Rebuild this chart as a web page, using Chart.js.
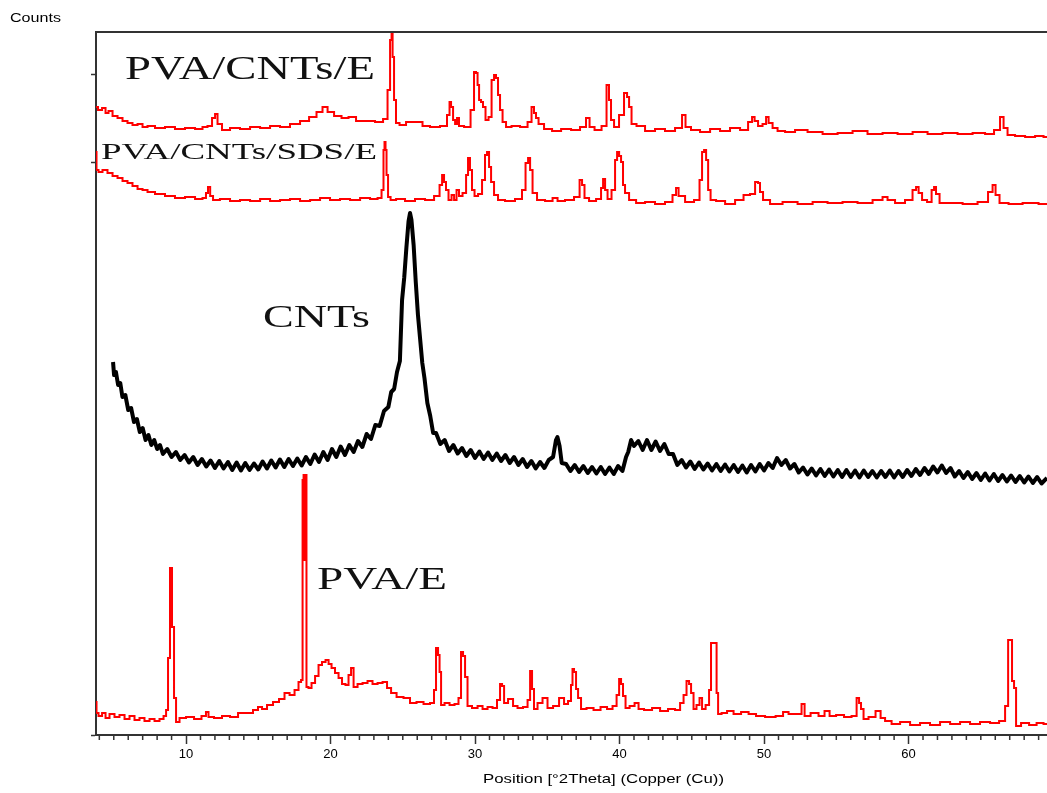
<!DOCTYPE html>
<html>
<head>
<meta charset="utf-8">
<title>XRD patterns</title>
<script src="https://cdn.jsdelivr.net/npm/chart.js@4.4.1/dist/chart.umd.min.js"></script>
<style>
  html, body { margin: 0; padding: 0; background: #fff; }
  #wrap { width: 1047px; height: 793px; }
</style>
</head>
<body>
<div id="wrap"><canvas id="xrd" width="1047" height="793"></canvas></div>
<script>
// tick labels on the 2theta axis
const xTicks = [10, 20, 30, 40, 50, 60];
const seriesNames = ['PVA/CNTs/E', 'PVA/CNTs/SDS/E', 'CNTs', 'PVA/E'];

// [2theta, counts] (patterns are stacked with offsets)
const pvaCntsE = [[3.77,1256],[4.05,1250],[4.33,1254],[4.53,1244],[4.74,1248],[5.09,1238],[5.43,1234],[5.78,1228],[6.12,1224],[6.47,1220],[6.82,1222],[7.16,1216],[7.51,1218],[8.20,1214],[8.89,1216],[9.58,1212],[10.28,1214],[10.97,1212],[11.31,1216],[11.66,1218],[11.94,1234],[12.08,1242],[12.28,1222],[12.70,1210],[13.39,1214],[14.08,1212],[14.78,1216],[15.47,1214],[16.16,1218],[16.85,1216],[17.54,1222],[18.24,1228],[18.79,1236],[19.27,1246],[19.62,1256],[19.97,1246],[20.52,1238],[21.00,1234],[21.49,1236],[22.04,1228],[22.73,1228],[23.43,1226],[23.84,1232],[24.05,1290],[24.19,1390],[24.26,1440],[24.33,1356],[24.46,1270],[24.60,1224],[24.95,1220],[25.50,1226],[26.19,1226],[26.54,1218],[27.23,1216],[27.92,1218],[28.20,1240],[28.27,1266],[28.41,1256],[28.55,1230],[28.69,1222],[28.82,1234],[28.96,1218],[29.52,1216],[29.86,1250],[30.00,1326],[30.14,1324],[30.21,1300],[30.35,1270],[30.48,1266],[30.62,1256],[30.83,1230],[31.04,1236],[31.25,1310],[31.38,1320],[31.52,1314],[31.66,1280],[31.80,1250],[32.01,1226],[32.28,1216],[32.77,1218],[33.46,1216],[33.81,1226],[34.01,1256],[34.15,1244],[34.29,1234],[34.50,1222],[35.05,1212],[35.61,1208],[36.30,1212],[36.99,1210],[37.54,1216],[37.82,1234],[38.03,1216],[38.51,1210],[39.00,1218],[39.20,1300],[39.34,1270],[39.48,1230],[39.76,1216],[40.17,1240],[40.45,1284],[40.59,1276],[40.73,1256],[40.93,1222],[41.42,1218],[42.11,1208],[42.80,1212],[43.49,1208],[44.19,1214],[44.46,1240],[44.67,1216],[45.22,1210],[45.92,1206],[46.61,1212],[47.30,1208],[47.99,1214],[48.69,1210],[49.10,1226],[49.24,1236],[49.45,1228],[49.72,1218],[50.07,1222],[50.21,1236],[50.42,1224],[50.76,1214],[51.11,1208],[51.80,1206],[52.49,1210],[53.53,1206],[54.57,1202],[55.61,1204],[56.64,1208],[57.68,1202],[58.72,1204],[59.76,1202],[60.80,1206],[61.83,1202],[62.87,1204],[63.91,1202],[64.95,1204],[65.64,1202],[66.19,1210],[66.47,1236],[66.68,1214],[67.02,1200],[67.72,1198],[68.41,1196],[69.10,1198],[69.58,1196]];

const pvaCntsSdsE = [[3.77,1166],[3.84,1130],[4.05,1126],[4.39,1130],[4.74,1124],[5.09,1118],[5.43,1114],[5.78,1108],[6.12,1104],[6.47,1098],[6.82,1092],[7.16,1090],[7.51,1086],[8.20,1082],[8.89,1078],[9.58,1074],[10.28,1076],[10.97,1072],[11.31,1074],[11.45,1084],[11.59,1096],[11.75,1078],[11.99,1070],[12.70,1072],[13.39,1068],[14.08,1070],[14.78,1068],[15.47,1072],[16.16,1068],[16.85,1070],[17.54,1072],[18.24,1068],[18.93,1070],[19.62,1074],[20.31,1070],[21.00,1072],[21.70,1070],[22.39,1074],[23.08,1072],[23.43,1074],[23.63,1090],[23.70,1170],[23.77,1186],[23.84,1170],[23.91,1120],[24.05,1076],[24.26,1070],[24.81,1072],[25.50,1068],[26.19,1072],[26.89,1070],[27.44,1078],[27.65,1100],[27.79,1120],[27.92,1106],[28.06,1090],[28.27,1070],[28.48,1080],[28.62,1070],[28.82,1090],[28.96,1078],[29.31,1084],[29.45,1120],[29.58,1154],[29.72,1130],[29.86,1090],[30.07,1078],[30.35,1082],[30.62,1110],[30.76,1160],[30.90,1166],[31.04,1136],[31.18,1106],[31.45,1080],[31.73,1070],[32.42,1068],[33.11,1072],[33.39,1090],[33.60,1144],[33.74,1154],[33.88,1130],[34.08,1084],[34.50,1070],[35.19,1068],[35.54,1074],[35.88,1068],[36.57,1070],[37.13,1076],[37.34,1110],[37.47,1100],[37.68,1074],[38.10,1068],[38.65,1072],[38.79,1094],[38.93,1112],[39.07,1090],[39.27,1072],[39.62,1090],[39.76,1150],[39.90,1166],[40.04,1158],[40.17,1146],[40.31,1100],[40.45,1084],[40.87,1070],[41.42,1064],[42.11,1066],[42.80,1062],[43.49,1066],[43.84,1080],[43.98,1094],[44.19,1078],[44.88,1066],[45.43,1070],[45.64,1110],[45.78,1166],[45.92,1170],[46.06,1150],[46.20,1090],[46.40,1070],[46.96,1068],[47.65,1062],[48.34,1070],[48.82,1080],[49.24,1082],[49.52,1106],[49.65,1104],[49.79,1086],[50.07,1070],[50.76,1062],[51.80,1066],[52.84,1062],[53.88,1066],[54.91,1064],[55.95,1066],[56.99,1064],[58.03,1070],[58.37,1076],[58.72,1070],[59.41,1064],[60.10,1070],[60.45,1090],[60.59,1096],[60.80,1084],[61.07,1070],[61.49,1066],[61.70,1090],[61.83,1096],[61.97,1082],[62.32,1064],[63.22,1064],[64.26,1062],[65.29,1066],[65.71,1086],[65.92,1100],[66.12,1080],[66.47,1064],[67.37,1062],[68.41,1064],[69.58,1062]];

const cnts = [[4.95,746],[5.02,720],[5.15,726],[5.3,700],[5.45,704],[5.6,676],[5.8,680],[6.0,650],[6.2,654],[6.4,626],[6.6,632],[6.8,606],[7.0,614],[7.2,590],[7.4,600],[7.6,580],[7.8,590],[8.0,572],[8.2,580],[8.4,562],[8.7,572],[9.0,556],[9.3,566],[9.6,550],[9.9,560],[10.2,545],[10.5,556],[10.8,540],[11.1,552],[11.4,537],[11.7,549],[12.0,534],[12.3,548],[12.6,533],[12.9,546],[13.2,530],[13.5,545],[13.8,529],[14.1,544],[14.4,530],[14.7,543],[15.0,531],[15.3,547],[15.6,533],[15.9,549],[16.2,535],[16.5,551],[16.8,536],[17.1,552],[17.4,538],[17.7,553],[18.0,539],[18.3,556],[18.6,542],[18.9,561],[19.2,546],[19.5,566],[19.8,550],[20.1,572],[20.4,556],[20.7,577],[21.0,560],[21.3,580],[21.6,566],[21.9,588],[22.2,576],[22.5,602],[22.8,592],[23.1,620],[23.4,618],[23.7,648],[24.0,656],[24.2,686],[24.4,692],[24.6,726],[24.8,748],[24.95,870],[25.1,915],[25.25,975],[25.4,1028],[25.5,1044],[25.6,1030],[25.75,980],[25.9,905],[26.05,840],[26.2,792],[26.35,744],[26.5,714],[26.7,664],[26.9,638],[27.1,604],[27.3,604],[27.6,582],[27.9,590],[28.2,568],[28.5,580],[28.8,563],[29.1,574],[29.4,558],[29.7,570],[30.0,554],[30.3,567],[30.6,552],[30.9,565],[31.2,550],[31.5,563],[31.8,548],[32.1,560],[32.4,544],[32.7,556],[33.0,540],[33.3,552],[33.6,536],[33.9,548],[34.2,533],[34.5,546],[34.8,534],[35.1,550],[35.4,556],[35.6,590],[35.7,596],[35.85,578],[36.0,544],[36.3,542],[36.6,528],[36.9,540],[37.2,526],[37.5,538],[37.8,524],[38.1,536],[38.4,523],[38.7,536],[39.0,522],[39.3,535],[39.6,522],[39.9,538],[40.2,528],[40.45,556],[40.6,566],[40.8,590],[41.0,578],[41.3,588],[41.6,570],[41.9,590],[42.2,570],[42.5,587],[42.8,568],[43.1,582],[43.4,562],[43.7,562],[44.0,540],[44.3,550],[44.6,535],[44.9,547],[45.2,532],[45.5,545],[45.8,531],[46.1,543],[46.4,529],[46.7,542],[47.0,528],[47.3,541],[47.6,527],[47.9,540],[48.2,526],[48.5,539],[48.8,525],[49.1,540],[49.4,527],[49.7,542],[50.0,529],[50.3,544],[50.6,534],[50.9,554],[51.2,540],[51.5,550],[51.8,533],[52.1,542],[52.4,525],[52.7,535],[53.0,521],[53.3,533],[53.6,519],[53.9,532],[54.2,518],[54.5,531],[54.8,517],[55.1,530],[55.4,516],[55.7,530],[56.0,516],[56.3,529],[56.6,515],[56.9,529],[57.2,516],[57.5,528],[57.8,515],[58.1,528],[58.4,516],[58.7,529],[59.0,515],[59.3,528],[59.6,516],[59.9,530],[60.2,518],[60.5,532],[60.8,520],[61.1,534],[61.4,522],[61.7,537],[62.0,525],[62.3,539],[62.6,524],[62.9,534],[63.2,517],[63.5,528],[63.8,514],[64.1,526],[64.4,512],[64.7,524],[65.0,510],[65.3,523],[65.6,509],[65.9,522],[66.2,508],[66.5,520],[66.8,507],[67.1,519],[67.4,506],[67.7,518],[68.0,505],[68.3,517],[68.6,504],[68.9,516],[69.2,503],[69.58,514]];

const pvaE = [[3.77,66],[3.84,44],[4.05,38],[4.33,44],[4.53,34],[4.88,42],[5.22,36],[5.57,40],[5.92,32],[6.26,38],[6.61,30],[6.95,34],[7.30,28],[7.65,32],[7.99,28],[8.34,32],[8.55,38],[8.69,50],[8.82,154],[8.96,334],[9.10,216],[9.24,74],[9.38,26],[9.72,34],[10.28,36],[10.83,32],[11.31,38],[11.45,46],[11.66,36],[12.21,34],[12.77,38],[13.32,36],[13.88,44],[14.43,44],[14.84,50],[15.12,56],[15.40,52],[15.81,60],[16.23,66],[16.64,72],[16.99,84],[17.34,80],[17.68,90],[17.89,106],[18.03,110],[18.10,510],[18.17,520],[18.24,350],[18.30,520],[18.37,96],[18.58,94],[18.79,104],[19.07,118],[19.27,140],[19.55,146],[19.76,150],[19.97,142],[20.17,134],[20.45,124],[20.66,114],[20.93,102],[21.14,100],[21.35,120],[21.49,134],[21.70,96],[22.04,102],[22.39,104],[22.73,108],[23.08,102],[23.43,104],[23.77,106],[24.05,94],[24.33,84],[24.81,76],[25.29,74],[25.71,64],[26.19,66],[26.68,62],[27.09,64],[27.23,90],[27.37,174],[27.51,160],[27.58,126],[27.72,60],[28.06,64],[28.41,60],[28.75,62],[28.96,74],[29.10,166],[29.24,158],[29.38,116],[29.58,58],[30.00,54],[30.35,58],[30.69,52],[31.04,56],[31.38,54],[31.66,70],[31.80,102],[31.94,98],[32.08,64],[32.49,72],[32.77,58],[33.11,54],[33.53,56],[33.74,70],[33.88,128],[34.01,92],[34.15,52],[34.50,64],[34.84,74],[35.19,54],[35.61,58],[36.02,74],[36.30,62],[36.57,68],[36.71,100],[36.78,132],[36.92,126],[37.06,92],[37.20,74],[37.47,52],[37.96,54],[38.44,50],[38.93,56],[39.34,52],[39.69,58],[39.90,80],[40.04,112],[40.17,102],[40.31,78],[40.52,54],[40.87,58],[41.21,64],[41.42,52],[41.97,50],[42.53,54],[43.08,48],[43.63,52],[44.05,50],[44.33,64],[44.53,80],[44.74,108],[44.88,102],[45.02,84],[45.22,52],[45.43,60],[45.64,74],[45.78,52],[46.13,60],[46.26,90],[46.40,184],[46.68,184],[46.75,84],[46.89,42],[47.23,44],[47.65,48],[48.13,42],[48.69,46],[49.17,42],[49.72,38],[50.42,36],[51.18,38],[51.45,46],[51.94,42],[52.49,42],[52.70,62],[52.91,38],[53.53,44],[54.01,38],[54.36,48],[54.71,38],[55.26,40],[55.81,36],[56.30,38],[56.51,74],[56.64,64],[56.78,52],[56.99,32],[57.47,36],[57.96,48],[58.17,34],[58.58,28],[59.07,22],[59.76,26],[60.45,20],[61.14,24],[61.83,20],[62.53,26],[63.22,22],[63.91,26],[64.60,22],[65.29,26],[65.99,24],[66.54,28],[66.82,58],[66.96,190],[67.09,190],[67.23,108],[67.37,94],[67.51,18],[68.06,24],[68.62,20],[69.10,24],[69.58,22]];

const xRange = [3.77, 69.58];
const yRange = [0, 1406];
const yTickMarks = [0, 1146, 1320];

const toXY = (arr) => arr.map(([x, y]) => ({ x, y }));

// draws text squeezed/stretched to a given width (the original figure is stretched sideways)
function stretchText(ctx, text, left, baseline, font, width) {
  ctx.save();
  ctx.font = font;
  const w = ctx.measureText(text).width;
  ctx.translate(left, baseline);
  ctx.scale(width / w, 1);
  ctx.textAlign = 'left';
  ctx.textBaseline = 'alphabetic';
  ctx.fillText(text, 0, 0);
  ctx.restore();
}

const decor = {
  id: 'decor',
  afterDraw(chart) {
    const { ctx, chartArea: a } = chart;
    const x = chart.scales.x;
    ctx.save();
    // top frame line
    ctx.strokeStyle = '#333';
    ctx.lineWidth = 2;
    ctx.beginPath();
    ctx.moveTo(a.left - 1, a.top);
    ctx.lineTo(a.right, a.top);
    ctx.stroke();

    // minor ticks every degree
    ctx.lineWidth = 1.5;
    ctx.beginPath();
    for (let v = Math.ceil(x.min); v <= x.max; v++) {
      if (v % 10 === 0) continue;
      const px = x.getPixelForValue(v);
      ctx.moveTo(px, a.bottom);
      ctx.lineTo(px, a.bottom + 5);
    }
    ctx.stroke();

    ctx.fillStyle = '#111';
    const serif = '"Liberation Serif", "Times New Roman", serif';
    stretchText(ctx, seriesNames[0], 125, 79, '33px ' + serif, 250);
    stretchText(ctx, seriesNames[1], 101, 159, '24px ' + serif, 276);
    stretchText(ctx, seriesNames[2], 263, 327, '32px ' + serif, 107);
    stretchText(ctx, seriesNames[3], 317, 589, '31px ' + serif, 130);

    ctx.fillStyle = '#000';
    const sans = '"Liberation Sans", Arial, sans-serif';
    stretchText(ctx, 'Counts', 10, 22, '12px ' + sans, 51);
    stretchText(ctx, 'Position [°2Theta] (Copper (Cu))', 483, 783, '13px ' + sans, 241);
    ctx.restore();
  }
};

const redLine = (data) => ({
  data: toXY(data),
  borderColor: '#ff0000',
  borderWidth: 2,
  pointRadius: 0,
  stepped: 'middle',
  fill: false
});

new Chart(document.getElementById('xrd'), {
  type: 'line',
  data: {
    datasets: [
      Object.assign(redLine(pvaCntsE), { label: seriesNames[0] }),
      Object.assign(redLine(pvaCntsSdsE), { label: seriesNames[1] }),
      {
        label: seriesNames[2],
        data: toXY(cnts),
        borderColor: '#000',
        borderWidth: 4,
        borderJoinStyle: 'round',
        pointRadius: 0,
        tension: 0,
        fill: false
      },
      Object.assign(redLine(pvaE), { label: seriesNames[3] })
    ]
  },
  options: {
    responsive: false,
    animation: false,
    events: [],
    layout: { padding: { top: 32, left: 0, right: 0, bottom: 0 } },
    plugins: { legend: { display: false }, tooltip: { enabled: false } },
    scales: {
      x: {
        type: 'linear',
        min: xRange[0],
        max: xRange[1],
        afterBuildTicks: (s) => { s.ticks = xTicks.map((v) => ({ value: v })); },
        afterFit: (s) => { s.height = 58; },
        ticks: {
          color: '#000',
          padding: 3,
          maxRotation: 0,
          font: { family: '"Liberation Sans", Arial, sans-serif', size: 13 }
        },
        grid: { drawOnChartArea: false, tickLength: 9, tickColor: '#333', tickWidth: 1.5 },
        border: { color: '#333', width: 2 }
      },
      y: {
        min: yRange[0],
        max: yRange[1],
        afterBuildTicks: (s) => { s.ticks = yTickMarks.map((v) => ({ value: v })); },
        afterFit: (s) => { s.width = 96; },
        ticks: { display: false },
        grid: { drawOnChartArea: false, tickLength: 5, tickColor: '#333', tickWidth: 1.5 },
        border: { color: '#333', width: 2 }
      }
    }
  },
  plugins: [decor]
});
</script>
</body>
</html>
